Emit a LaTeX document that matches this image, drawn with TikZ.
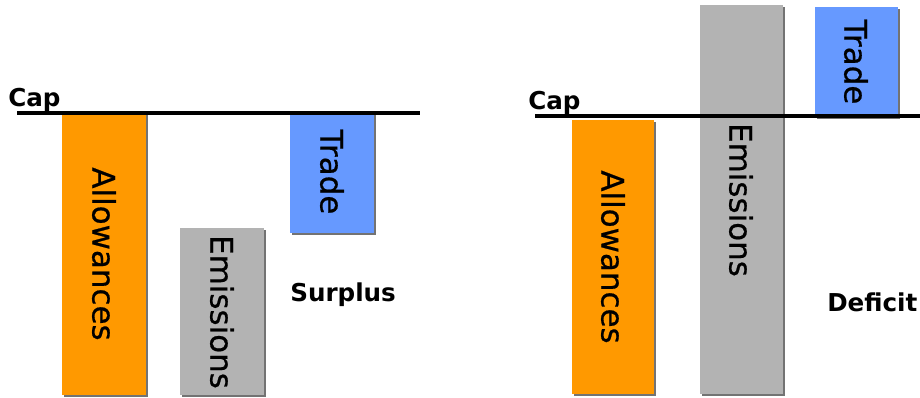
\documentclass[tikz,border=0pt]{standalone}
\usepackage{fontspec}
\setmainfont{DejaVu Sans}
\newfontfamily\barfont[FakeBold=0.6]{DejaVu Sans}

\definecolor{allowcol}{HTML}{FF9900}
\definecolor{emiscol}{HTML}{B3B3B3}
\definecolor{tradecol}{HTML}{6699FF}

\tikzset{
  allow/.style    ={fill=allowcol},
  emis/.style     ={fill=emiscol},
  trade/.style    ={fill=tradecol},
  shade/.style    ={fill=black!55},
  capline/.style  ={line width=2.2pt},
  barlabel/.style ={rotate=-90, inner sep=0pt, font=\barfont\fontsize{22}{26}\selectfont},
  tag/.style      ={inner sep=0pt, anchor=base west, font=\fontsize{17.5}{21}\selectfont\bfseries}
}

\begin{document}
\begin{tikzpicture}[x=0.025cm, y=-0.025cm]
    \useasboundingbox (0,0) rectangle (920,398);

    % left panel: surplus
    \fill[shade] (64,115) rectangle (148,397);
    \fill[allow] (62,113) rectangle (146,395);
    \node[barlabel] (allowL) at (104,254) {Allowances};

    \fill[shade] (182,230) rectangle (266,397);
    \fill[emis] (180,228) rectangle (264,395);
    \node[barlabel] (emisL) at (222,312) {Emissions};

    \fill[shade] (292,115) rectangle (376,235);
    \fill[trade] (290,113) rectangle (374,233);
    \node[barlabel] (tradeL) at (332,172) {Trade};

    \node[tag] (capL) at (8,107) {Cap};
    \draw[capline] (17,113) -- (420,113);
    \node[tag] (surplus) at (290,302) {Surplus};

    % right panel: deficit
    \fill[shade] (574,122) rectangle (656,396);
    \fill[allow] (572,120) rectangle (654,394);
    \node[barlabel] (allowR) at (613,257) {Allowances};

    \fill[shade] (702,7) rectangle (785,396);
    \fill[emis] (700,5) rectangle (783,394);
    \node[barlabel] (emisR) at (741,200) {Emissions};

    \fill[shade] (817,9) rectangle (900,119);
    \fill[trade] (815,7) rectangle (898,117);
    \node[barlabel] (tradeR) at (856,62) {Trade};

    \node[tag] (capR) at (528,110) {Cap};
    \draw[capline] (535,116) -- (920,116);
    \node[tag] (deficit) at (827,312) {Deficit};
\end{tikzpicture}
\end{document}
